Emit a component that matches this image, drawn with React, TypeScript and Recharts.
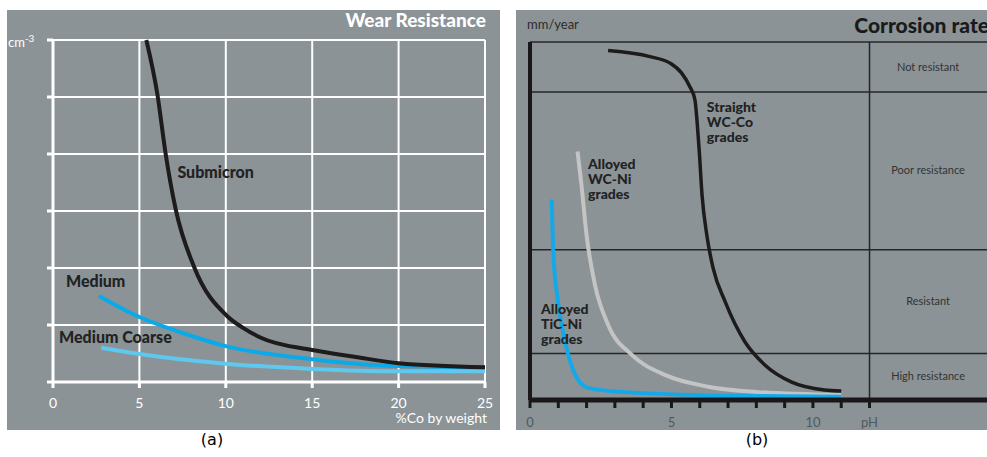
import {
  CartesianGrid,
  Line,
  LineChart,
  ReferenceDot,
  ReferenceLine,
  XAxis,
  YAxis,
} from "recharts";

const FONT = "Lato, 'Open Sans', sans-serif";
const PANEL_BG = "#8b9396";
const INK = "#1d1b1c";

// (a) wear resistance against cobalt content
const coTicks = [0, 5, 10, 15, 20, 25];
const wearTicks = [0, 1, 2, 3, 4, 5, 6];

const submicronCo = [5.4, 6.05, 6.5, 7.1, 8.15, 10.1, 11, 12, 15, 17.5, 20, 25];
const submicronWear = [6, 5.03, 4.04, 3.03, 2.03, 1.15, 0.95, 0.78, 0.56, 0.44, 0.33, 0.26];

const mediumCo = [2.66, 5, 7.5, 10, 15, 20, 25];
const mediumWear = [1.51, 1.14, 0.86, 0.63, 0.4, 0.28, 0.26];

const coarseCo = [2.8, 5, 10, 15, 20, 25];
const coarseWear = [0.6, 0.49, 0.32, 0.23, 0.19, 0.19];

// (b) corrosion rate against pH
const phTicks = [0, 1, 2, 3, 4, 5, 6, 7, 8, 9, 10, 11, 12];
const phLabels: Record<number, string> = { 0: "0", 5: "5", 10: "10", 12: "pH" };
const bandEdges = [0, 13, 42, 86, 100];
const bandNames = ["High resistance", "Resistant", "Poor resistance", "Not resistant"];

const wcCoPh = [2.76, 4.24, 4.95, 5.36, 5.65, 5.83, 5.91, 5.98, 6.08, 6.25, 6.47, 6.9, 7.6, 8.3, 9.25, 10.4, 11];
const wcCoRate = [97.6, 95.9, 94.1, 91.3, 87.5, 83.8, 77.3, 69.8, 57.3, 46, 36.9, 27.4, 16.2, 9.8, 5, 2.8, 2.5];

const wcNiPh = [1.68, 1.82, 2.0, 2.3, 2.76, 3.6, 4.77, 6.3, 8.07, 11];
const wcNiRate = [69.4, 60, 46, 32, 21, 12.6, 7, 3.7, 2.2, 1.4];

const ticNiPh = [0.77, 0.82, 0.99, 1.24, 1.6, 2.05, 3.36, 6.9, 11];
const ticNiRate = [56, 41.4, 27.5, 16.3, 7, 3.4, 2.2, 1.2, 0.9];

const zip = (xs: number[], ys: number[]) => xs.map((x, i) => ({ x, y: ys[i] }));

// text block anchored at a data point, drawn through ReferenceDot's shape
function textBlock(
  lines: string[],
  style: { size: number; weight: number; fill: string; anchor?: "start" | "middle"; lead?: number }
) {
  return (props: any) => (
    <text
      x={props.cx}
      y={props.cy}
      fontFamily={FONT}
      fontSize={style.size}
      fontWeight={style.weight}
      fill={style.fill}
      textAnchor={style.anchor ?? "start"}
    >
      {lines.map((line, i) => (
        <tspan key={i} x={props.cx} dy={i === 0 ? 0 : style.lead ?? 15}>
          {line}
        </tspan>
      ))}
    </text>
  );
}

const wearLabel = { size: 16, weight: 900, fill: "#222" };
const gradeLabel = { size: 14, weight: 900, fill: "#222" };

function WearPanel() {
  return (
    <div
      style={{
        position: "absolute",
        left: 7,
        top: 10,
        width: 493,
        height: 420,
        background: PANEL_BG,
      }}
    >
      <div
        style={{
          position: "absolute",
          right: 14,
          top: -2,
          color: "#fff",
          fontWeight: 900,
          fontSize: 19,
          lineHeight: "24px",
          whiteSpace: "nowrap",
        }}
      >
        Wear Resistance
      </div>
      <div
        style={{
          position: "absolute",
          left: 1,
          top: 22,
          color: "#fff",
          fontSize: 13,
        }}
      >
        cm<sup style={{ fontSize: 10 }}>-3</sup>
      </div>
      <div
        style={{
          position: "absolute",
          right: 13,
          top: 400,
          color: "#fff",
          fontSize: 14,
          lineHeight: "15px",
          whiteSpace: "nowrap",
        }}
      >
        %Co by weight
      </div>
      <LineChart
        width={493}
        height={420}
        margin={{ top: 30, right: 15, left: 40, bottom: 8 }}
      >
        <CartesianGrid stroke="#fff" strokeWidth={2} />
        <XAxis
          type="number"
          dataKey="x"
          domain={[0, 25]}
          ticks={coTicks}
          height={40}
          axisLine={{ stroke: "#fff", strokeWidth: 3 }}
          tickLine={{ stroke: "#fff", strokeWidth: 3 }}
          tickSize={6}
          tickMargin={10}
          tick={{ fill: "#fff", fontSize: 14, fontFamily: FONT }}
        />
        <YAxis
          type="number"
          dataKey="y"
          domain={[0, 6]}
          ticks={wearTicks}
          width={6}
          axisLine={{ stroke: "#fff", strokeWidth: 3 }}
          tickLine={{ stroke: "#fff", strokeWidth: 3 }}
          tickSize={6}
          tickFormatter={() => ""}
        />
        <Line
          data={zip(coarseCo, coarseWear)}
          dataKey="y"
          type="monotone"
          stroke="#5ec8ef"
          strokeWidth={4}
          dot={false}
          isAnimationActive={false}
        />
        <Line
          data={zip(mediumCo, mediumWear)}
          dataKey="y"
          type="monotone"
          stroke="#0aaae9"
          strokeWidth={4}
          dot={false}
          isAnimationActive={false}
        />
        <Line
          data={zip(submicronCo, submicronWear)}
          dataKey="y"
          type="monotone"
          stroke={INK}
          strokeWidth={4}
          dot={false}
          isAnimationActive={false}
        />
        <ReferenceDot x={7.2} y={3.58} shape={textBlock(["Submicron"], wearLabel)} />
        <ReferenceDot x={0.75} y={1.67} shape={textBlock(["Medium"], wearLabel)} />
        <ReferenceDot x={0.35} y={0.68} shape={textBlock(["Medium Coarse"], wearLabel)} />
      </LineChart>
    </div>
  );
}

function CorrosionPanel() {
  const bandLabelX = 14.07;
  return (
    <div
      style={{
        position: "absolute",
        left: 516,
        top: 10,
        width: 471,
        height: 420,
        background: PANEL_BG,
        overflow: "hidden",
      }}
    >
      <div
        style={{
          position: "absolute",
          left: 11,
          top: 6,
          color: "#2b2b2b",
          fontSize: 13,
        }}
      >
        mm/year
      </div>
      <div
        style={{
          position: "absolute",
          right: -2,
          top: 2,
          color: "#1a1a1a",
          fontWeight: 900,
          fontSize: 21,
          lineHeight: "26px",
          whiteSpace: "nowrap",
        }}
      >
        Corrosion rate
      </div>
      <LineChart
        width={501}
        height={420}
        margin={{ top: 32, right: 6, left: 14, bottom: 0 }}
      >
        <XAxis
          type="number"
          dataKey="x"
          domain={[0, 17]}
          ticks={phTicks}
          height={30}
          axisLine={{ stroke: "#1a1718", strokeWidth: 5 }}
          tickLine={{ stroke: "#1a1718", strokeWidth: 3 }}
          tickSize={8}
          tickMargin={10}
          tickFormatter={(v: number) => phLabels[v] ?? ""}
          tick={{ fill: "#4e5a63", fontSize: 13, fontFamily: FONT }}
        />
        <YAxis type="number" dataKey="y" domain={[0, 100]} hide />
        {bandEdges.slice(1).map((edge) => (
          <ReferenceLine key={edge} y={edge} stroke="#262626" strokeWidth={1.5} />
        ))}
        <ReferenceLine x={12} stroke="#262626" strokeWidth={1.5} />
        <ReferenceLine x={0} stroke="#1a1718" strokeWidth={4} />
        {bandNames.map((name, i) => (
          <ReferenceDot
            key={name}
            x={bandLabelX}
            y={(bandEdges[i] + bandEdges[i + 1]) / 2 - 1}
            shape={textBlock([name], { size: 11, weight: 400, fill: "#333", anchor: "middle" })}
          />
        ))}
        <Line
          data={zip(wcCoPh, wcCoRate)}
          dataKey="y"
          type="monotone"
          stroke={INK}
          strokeWidth={3.5}
          dot={false}
          isAnimationActive={false}
        />
        <Line
          data={zip(wcNiPh, wcNiRate)}
          dataKey="y"
          type="monotone"
          stroke="#c4c4c4"
          strokeWidth={4}
          dot={false}
          isAnimationActive={false}
        />
        <Line
          data={zip(ticNiPh, ticNiRate)}
          dataKey="y"
          type="monotone"
          stroke="#12a9ea"
          strokeWidth={4}
          dot={false}
          isAnimationActive={false}
        />
        <ReferenceDot
          x={6.25}
          y={80.4}
          shape={textBlock(["Straight", "WC-Co", "grades"], gradeLabel)}
        />
        <ReferenceDot
          x={2.05}
          y={64.5}
          shape={textBlock(["Alloyed", "WC-Ni", "grades"], gradeLabel)}
        />
        <ReferenceDot
          x={0.39}
          y={24}
          shape={textBlock(["Alloyed", "TiC-Ni", "grades"], gradeLabel)}
        />
      </LineChart>
    </div>
  );
}

export default function App() {
  return (
    <div
      style={{
        position: "absolute",
        left: 0,
        top: 0,
        width: 987,
        height: 457,
        background: "#fff",
        overflow: "hidden",
        fontFamily: FONT,
      }}
    >
      <WearPanel />
      <CorrosionPanel />
      <div
        style={{
          position: "absolute",
          left: 0,
          width: 424,
          top: 430,
          textAlign: "center",
          fontFamily: "'DejaVu Sans', sans-serif",
          fontSize: 16,
        }}
      >
        (a)
      </div>
      <div
        style={{
          position: "absolute",
          left: 557,
          width: 400,
          top: 430,
          textAlign: "center",
          fontFamily: "'DejaVu Sans', sans-serif",
          fontSize: 16,
        }}
      >
        (b)
      </div>
    </div>
  );
}
